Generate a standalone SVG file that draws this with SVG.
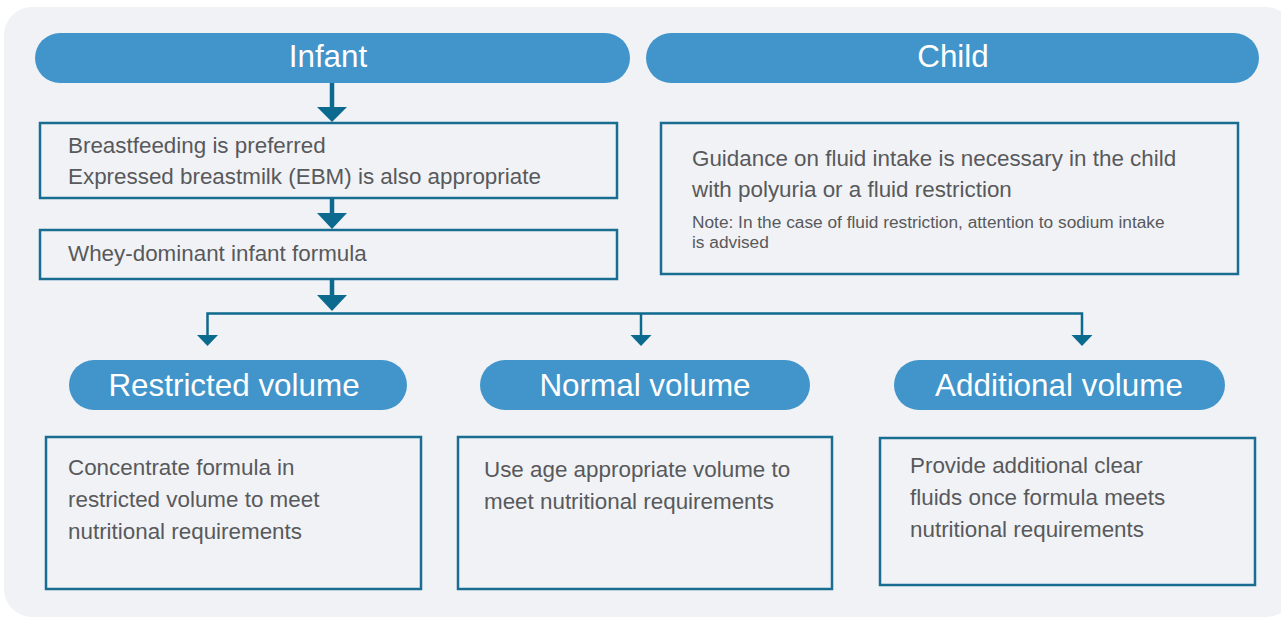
<svg xmlns="http://www.w3.org/2000/svg" width="1281" height="619" viewBox="0 0 1281 619">
<style>
.pill{fill:#4195ca}
.ptxt{font-family:"Liberation Sans",Arial,sans-serif;font-size:31.4px;fill:#ffffff;text-anchor:middle}
.box{fill:none;stroke:#186d91;stroke-width:2.5}
.txt{font-family:"Liberation Sans",Arial,sans-serif;font-size:22.4px;fill:#58595b}
.note{font-family:"Liberation Sans",Arial,sans-serif;font-size:17.3px;fill:#58595b}
.stem{stroke:#0d6a8f;stroke-width:4.5;fill:none}
.thin{stroke:#0d6a8f;stroke-width:2.5;fill:none}
.head{fill:#0d6a8f}
</style>
<rect x="4" y="7" width="1290" height="610" rx="28" fill="#f1f2f6"/>
<g id="infant">
<rect class="pill" x="35" y="33" width="595" height="50" rx="25"/>
<text class="ptxt" x="328" y="67">Infant</text>
</g>
<g id="child">
<rect class="pill" x="646" y="33" width="613" height="50" rx="25"/>
<text class="ptxt" x="953" y="67">Child</text>
</g>
<g id="breastfeeding">
<rect class="box" x="40" y="123" width="577" height="75"/>
<text class="txt" x="68" y="153">Breastfeeding is preferred</text>
<text class="txt" x="68" y="184">Expressed breastmilk (EBM) is also appropriate</text>
</g>
<g id="formula">
<rect class="box" x="40" y="230" width="577" height="49"/>
<text class="txt" x="68" y="261">Whey-dominant infant formula</text>
</g>
<g id="guidance">
<rect class="box" x="661" y="123" width="577" height="151"/>
<text class="txt" x="692" y="166">Guidance on fluid intake is necessary in the child</text>
<text class="txt" x="692" y="197">with polyuria or a fluid restriction</text>
<text class="note" x="692" y="228">Note: In the case of fluid restriction, attention to sodium intake</text>
<text class="note" x="692" y="248">is advised</text>
</g>
<g id="restricted">
<rect class="pill" x="69" y="360" width="338" height="50" rx="25"/>
<text class="ptxt" x="234" y="396">Restricted volume</text>
</g>
<g id="normal">
<rect class="pill" x="480" y="360" width="330" height="50" rx="25"/>
<text class="ptxt" x="645" y="396">Normal volume</text>
</g>
<g id="additional">
<rect class="pill" x="894" y="360" width="331" height="50" rx="25"/>
<text class="ptxt" x="1059" y="396">Additional volume</text>
</g>
<g id="concentrate">
<rect class="box" x="46" y="437" width="375" height="152"/>
<text class="txt" x="68" y="475">Concentrate formula in</text>
<text class="txt" x="68" y="507">restricted volume to meet</text>
<text class="txt" x="68" y="539">nutritional requirements</text>
</g>
<g id="age">
<rect class="box" x="458" y="437" width="374" height="152"/>
<text class="txt" x="484" y="477">Use age appropriate volume to</text>
<text class="txt" x="484" y="509">meet nutritional requirements</text>
</g>
<g id="clear">
<rect class="box" x="880" y="438" width="375" height="147"/>
<text class="txt" x="910" y="473">Provide additional clear</text>
<text class="txt" x="910" y="505">fluids once formula meets</text>
<text class="txt" x="910" y="537">nutritional requirements</text>
</g>
<g id="connectors">
<line class="stem" x1="332" y1="83" x2="332" y2="108"/>
<polygon class="head" points="317,107 347,107 332,122"/>
<line class="stem" x1="332" y1="198" x2="332" y2="214"/>
<polygon class="head" points="317,213 347,213 332,229"/>
<line class="stem" x1="332" y1="279" x2="332" y2="296"/>
<polygon class="head" points="317,295 347,295 332,311"/>
<polyline class="thin" points="207.5,336 207.5,313.5 1082,313.5 1082,336"/>
<line class="thin" x1="641" y1="313.5" x2="641" y2="336"/>
<polygon class="head" points="197,335 218,335 207.5,346"/>
<polygon class="head" points="630.5,335 651.5,335 641,346"/>
<polygon class="head" points="1071.5,335 1092.5,335 1082,346"/>
</g>
</svg>
